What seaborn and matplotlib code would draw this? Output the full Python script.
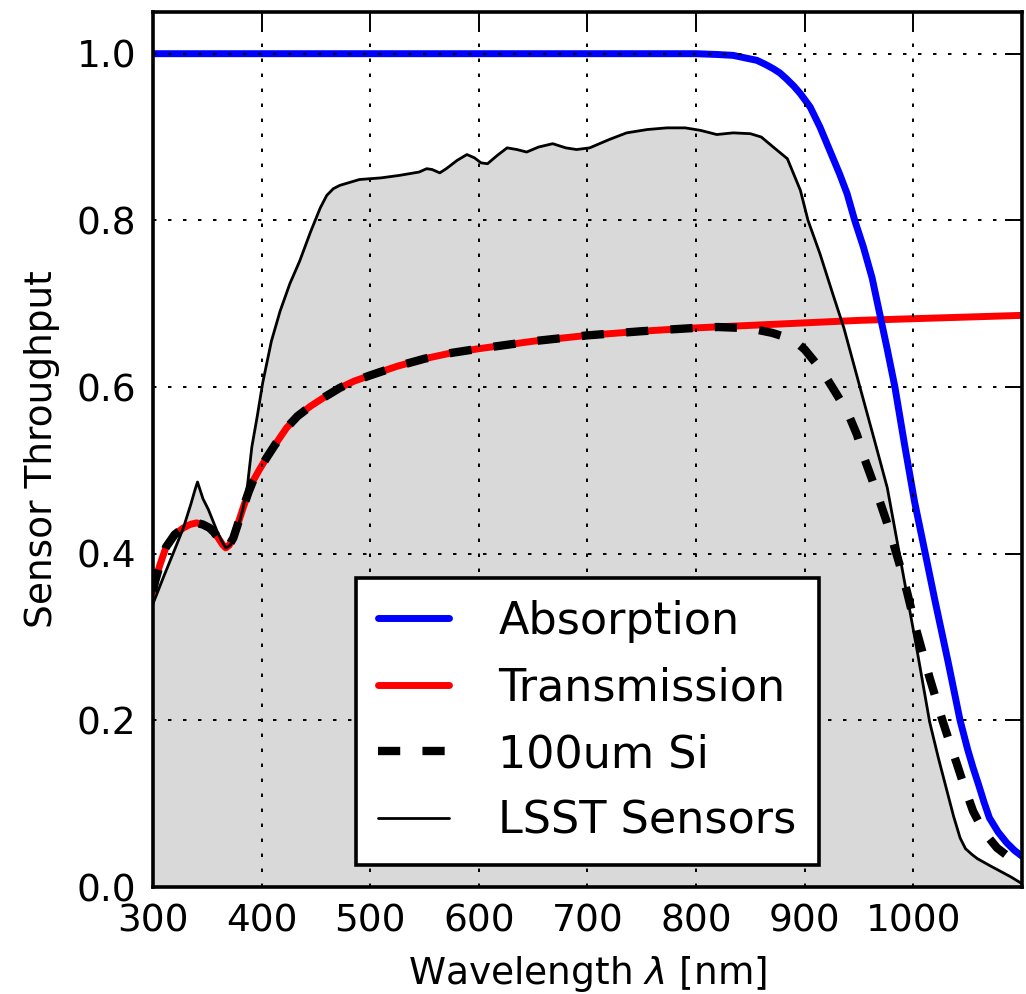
import matplotlib
matplotlib.use("Agg")
import matplotlib.pyplot as plt
import seaborn as sns

# Data (wavelength in nm, throughput 0-1)
abs_wl = [300, 400, 500, 600, 700, 800, 820, 834, 845, 856, 864, 871, 877,
          883, 890, 896, 905, 914, 923, 932, 939, 946, 954, 962, 969, 976,
          983, 992, 1001, 1011, 1020, 1032, 1043, 1050, 1055, 1060, 1065,
          1070, 1078, 1086, 1093, 1100]
abs_val = [1.0, 1.0, 1.0, 1.0, 1.0, 1.0, 0.999, 0.998, 0.995, 0.992, 0.987,
           0.982, 0.977, 0.970, 0.961, 0.952, 0.936, 0.912, 0.884, 0.856,
           0.832, 0.800, 0.768, 0.731, 0.688, 0.645, 0.600, 0.530, 0.463,
           0.400, 0.343, 0.270, 0.200, 0.165, 0.143, 0.123, 0.102, 0.083,
           0.066, 0.053, 0.044, 0.037]

tr_wl = [300, 302, 306, 312, 320, 328, 334, 340, 346, 352, 356, 360, 364,
         367, 370, 374, 378, 383, 388, 392, 398, 405, 412, 423, 433, 445,
         458, 472, 485, 500, 525, 550, 575, 600, 650, 700, 750, 800, 850,
         900, 950, 1000, 1050, 1100]
tr_val = [0.355, 0.367, 0.385, 0.408, 0.423, 0.431, 0.435, 0.437, 0.435,
          0.431, 0.426, 0.419, 0.411, 0.407, 0.410, 0.419, 0.435, 0.455,
          0.474, 0.487, 0.501, 0.516, 0.530, 0.551, 0.565, 0.577, 0.588,
          0.599, 0.607, 0.614, 0.625, 0.634, 0.641, 0.646, 0.655, 0.662,
          0.667, 0.671, 0.674, 0.677, 0.680, 0.682, 0.684, 0.686]

si_wl = [300, 302, 306, 312, 320, 328, 334, 340, 346, 352, 356, 360, 364,
         367, 370, 374, 378, 383, 388, 392, 398, 405, 412, 423, 433, 445,
         458, 472, 485, 500, 525, 550, 575, 600, 650, 700, 750, 800, 820,
         840, 855, 870, 882, 891, 900, 910, 920, 930, 940, 948, 955, 962,
         969, 975, 981, 988, 994, 1003, 1009, 1015, 1021, 1027, 1034, 1040,
         1047, 1055, 1065, 1077, 1088, 1100]
si_val = [0.355, 0.367, 0.385, 0.408, 0.423, 0.431, 0.435, 0.437, 0.435,
          0.431, 0.426, 0.419, 0.411, 0.407, 0.410, 0.419, 0.435, 0.455,
          0.474, 0.487, 0.501, 0.516, 0.530, 0.551, 0.565, 0.577, 0.588,
          0.599, 0.607, 0.614, 0.625, 0.634, 0.641, 0.646, 0.655, 0.662,
          0.667, 0.671, 0.672, 0.671, 0.669, 0.665, 0.660, 0.655, 0.645,
          0.629, 0.611, 0.590, 0.568, 0.543, 0.514, 0.489, 0.463, 0.440,
          0.415, 0.384, 0.355, 0.307, 0.279, 0.251, 0.225, 0.199, 0.171,
          0.148, 0.120, 0.091, 0.066, 0.047, 0.036, 0.027]

lsst_wl = [300, 310, 320, 328, 335, 339, 341, 343, 346, 351, 355, 359, 363,
           367, 371, 375, 379, 383, 387, 391, 396, 401, 409, 417, 426, 435,
           445, 454, 460, 466, 472, 490, 510, 527, 545, 552, 557, 564, 570,
           580, 589, 596, 602, 608, 617, 626, 635, 644, 655, 668, 680, 690,
           702, 720, 736, 755, 773, 790, 804, 819, 834, 850, 860, 871, 884,
           896, 903, 914, 926, 936, 951, 964, 976, 986, 995, 1003, 1015,
           1023, 1031, 1037, 1043, 1048, 1054, 1059, 1070, 1080, 1090, 1100]
lsst_val = [0.340, 0.373, 0.405, 0.431, 0.460, 0.478, 0.486, 0.478, 0.466,
            0.453, 0.440, 0.427, 0.416, 0.407, 0.410, 0.419, 0.435, 0.455,
            0.482, 0.528, 0.565, 0.605, 0.655, 0.691, 0.724, 0.751, 0.786,
            0.815, 0.830, 0.838, 0.842, 0.849, 0.851, 0.854, 0.858, 0.862,
            0.861, 0.857, 0.862, 0.872, 0.879, 0.875, 0.869, 0.868, 0.878,
            0.887, 0.885, 0.882, 0.888, 0.892, 0.887, 0.885, 0.887, 0.897,
            0.905, 0.909, 0.911, 0.911, 0.908, 0.903, 0.905, 0.904, 0.900,
            0.888, 0.874, 0.836, 0.800, 0.760, 0.711, 0.671, 0.599, 0.537,
            0.479, 0.408, 0.344, 0.287, 0.198, 0.155, 0.115, 0.085, 0.059,
            0.046, 0.039, 0.034, 0.026, 0.019, 0.012, 0.004]

x_ticks = [300, 400, 500, 600, 700, 800, 900, 1000]
y_ticks = [0.0, 0.2, 0.4, 0.6, 0.8, 1.0]

sns.set_style("white")
plt.rcParams["font.family"] = ["DejaVu Sans"]
plt.rcParams["lines.scale_dashes"] = False
plt.rcParams["mathtext.fontset"] = "dejavusans"
plt.rcParams["text.color"] = "black"
plt.rcParams["axes.labelcolor"] = "black"
plt.rcParams["xtick.color"] = "black"
plt.rcParams["ytick.color"] = "black"

fig = plt.figure(figsize=(10.26, 9.94), dpi=100)
ax = fig.add_axes([0.1491, 0.1076, 0.8470, 0.8803])

# gray filled area under the LSST sensor curve
ax.fill_between(lsst_wl, 0, lsst_val, color="#d9d9d9", lw=0, zorder=1)

sns.lineplot(x=tr_wl, y=tr_val, ax=ax, color="#ff0000", lw=5,
             label="Transmission", zorder=2)
sns.lineplot(x=abs_wl, y=abs_val, ax=ax, color="#0000ff", lw=5,
             label="Absorption", zorder=2.1)
sns.lineplot(x=si_wl, y=si_val, ax=ax, color="black", lw=6,
             linestyle=(0, (16, 16)), label="100um Si", zorder=2.2)
sns.lineplot(x=lsst_wl, y=lsst_val, ax=ax, color="black", lw=2,
             label="LSST Sensors", zorder=2.3)

ax.set_xlim(300, 1100)
ax.set_ylim(0, 1.05)
ax.set_xticks(x_ticks)
ax.set_yticks(y_ticks)
ax.set_yticklabels([f"{v:.1f}" for v in y_ticks])

ax.set_axisbelow(False)
ax.grid(True, color="black", lw=1.4, linestyle=(0, (2.5, 8.3)))

ax.tick_params(direction="in", length=12, width=1.4, top=True, right=True,
               labelsize=27, colors="black")
ax.tick_params(axis="y", pad=12)
ax.tick_params(axis="x", pad=12)
for s in ax.spines.values():
    s.set_linewidth(2.6)
    s.set_color("black")

ax.set_xlabel(r"Wavelength $\lambda$ [nm]", fontsize=27, labelpad=10)
ax.set_ylabel("Sensor Throughput", fontsize=27, labelpad=12)

handles, labels = ax.get_legend_handles_labels()
order = [labels.index(n) for n in
         ["Absorption", "Transmission", "100um Si", "LSST Sensors"]]
leg = ax.legend([handles[i] for i in order], [labels[i] for i in order],
                loc="lower center", fontsize=32, handlelength=1.6,
                handletextpad=1.1, labelspacing=0.53, borderpad=0.5,
                fancybox=False, framealpha=1, edgecolor="black")
leg.get_frame().set_linewidth(2.6)

fig.savefig("out.png", dpi=100)
